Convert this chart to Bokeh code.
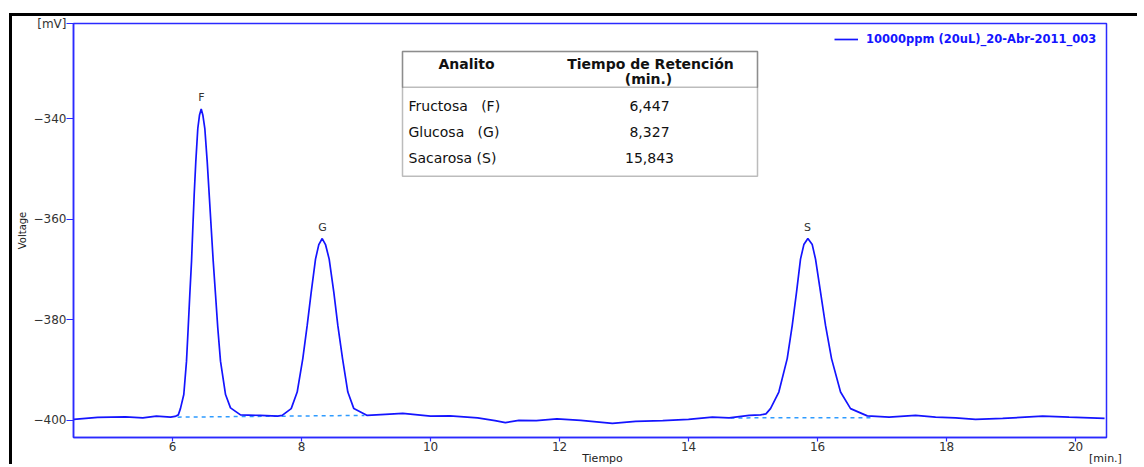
import numpy as np
from bokeh.plotting import figure
from bokeh.models import (FixedTicker, Label, BoxAnnotation, Legend, LegendItem, Range1d,
                          LinearAxis)
from bokeh.core.properties import value
from bokeh.embed import file_html
from bokeh.resources import INLINE

# ---------------- data ----------------
time_min = [4.47, 4.84, 5.27, 5.54, 5.75, 5.97, 6.04, 6.09, 6.124, 6.175, 6.217, 6.243,
            6.268, 6.295, 6.315, 6.336, 6.361, 6.392, 6.419, 6.445, 6.47, 6.501, 6.538,
            6.569, 6.60, 6.631, 6.667, 6.702, 6.744, 6.822, 6.899, 7.054, 7.36, 7.63,
            7.70, 7.84, 7.933, 8.020, 8.088, 8.150, 8.217, 8.268, 8.321, 8.372, 8.429,
            8.501, 8.563, 8.636, 8.718, 8.811, 9.019, 9.30, 9.57, 10.0, 10.3, 10.73,
            11.0, 11.16, 11.37, 11.64, 11.96, 12.33, 12.82, 13.18, 13.6, 14.0, 14.37,
            14.63, 14.94, 15.116, 15.2, 15.271, 15.40, 15.53, 15.608, 15.674, 15.736,
            15.788, 15.85, 15.918, 15.969, 16.047, 16.124, 16.217, 16.357, 16.512,
            16.771, 17.11, 17.52, 17.83, 18.14, 18.45, 18.87, 19.49, 19.9, 20.45]
voltage_mv = [-399.8, -399.4, -399.3, -399.5, -399.15, -399.35, -399.2, -398.9, -397.6,
              -394.85, -388.2, -381.6, -375.0, -368.3, -361.7, -355.1, -348.5, -341.9,
              -339.2, -338.0, -339.2, -341.9, -348.5, -355.1, -361.7, -368.3, -375.0,
              -381.6, -388.2, -394.85, -397.5, -398.9, -399.0, -399.15, -399.0, -397.65,
              -394.35, -387.7, -381.1, -374.5, -367.9, -365.0, -363.8, -365.0, -367.9,
              -374.5, -381.1, -387.7, -394.35, -397.65, -399.0, -398.8, -398.6, -399.15,
              -399.1, -399.5, -400.05, -400.45, -400.0, -400.05, -399.7, -400.0, -400.6,
              -400.2, -400.05, -399.8, -399.35, -399.5, -399.0, -398.9, -398.7, -397.65,
              -394.35, -387.7, -381.1, -374.5, -367.9, -365.0, -363.8, -365.0, -367.9,
              -374.5, -381.1, -387.7, -394.35, -397.65, -399.1, -399.35, -399.0, -399.35,
              -399.5, -399.8, -399.6, -399.15, -399.35, -399.6]

peak_names = ["F", "G", "S"]
peak_times = [6.447, 8.327, 15.843]
peak_tops = [-338.0, -363.8, -363.8]

base1_t = [6.08, 8.975]
base1_v = [-399.35, -399.0]
base2_t = [14.65, 16.82]
base2_v = [-399.5, -399.45]

x_ticks = [6, 8, 10, 12, 14, 16, 18, 20]
y_ticks = [-400, -380, -360, -340]

analytes = ["Fructosa\u00a0\u00a0\u00a0(F)", "Glucosa\u00a0\u00a0\u00a0(G)", "Sacarosa\u00a0(S)"]
retention = ["6,447", "8,327", "15,843"]
header = ["Analito", "Tiempo de Retención", "(min.)"]
series_name = "10000ppm (20uL)_20-Abr-2011_003"
y_unit, x_title, x_unit, y_title = "[mV]", "Tiempo", "[min.]", "Voltage"

# ---------------- layout ----------------
X0, X1 = 4.465, 20.48
Y0, Y1 = -403.4, -321.0
W, H = 1128, 451
ML, MR, MT, MB = 61, 34, 7, 29
FL, FT = 73, 23                      # frame left/top on the page
FW, FH = W - ML - MR, H - MT - MB

def dx(px):  # page px -> data x
    return X0 + (px - FL) / FW * (X1 - X0)

def dy(py):  # page px -> data y
    return Y1 - (py - FT) / FH * (Y1 - Y0)

BLUE = "#2a2aff"
TRACE = "#1414ff"
TXT = "#333333"
FONT = "DejaVu Sans"

p = figure(width=W, height=H, output_backend="svg", toolbar_location=None,
           x_range=Range1d(X0, X1), y_range=Range1d(Y0, Y1),
           min_border_left=ML, min_border_right=MR, min_border_top=MT, min_border_bottom=MB,
           background_fill_color="white", border_fill_color="white",
           styles={"margin-left": "9px", "margin-top": "13px",
                   "border-left": "3px solid #000", "border-top": "3px solid #000"})
p.grid.visible = False
p.outline_line_color = BLUE
p.outline_line_width = 1.5

for ax in (p.xaxis[0], p.yaxis[0]):
    ax.axis_line_color = BLUE
    ax.axis_line_width = 1.5
    ax.major_tick_line_color = BLUE
    ax.major_tick_line_width = 1.2
    ax.major_tick_in = 0
    ax.minor_tick_line_color = None
    ax.major_label_text_font = FONT
    ax.major_label_text_font_size = "12px"
    ax.major_label_text_color = TXT

p.xaxis.ticker = FixedTicker(ticks=x_ticks)
p.xaxis.major_tick_out = 4
p.xaxis.major_label_standoff = 0

# y axis: numeric ticks plus the unit label at the top of the axis
y_unit_pos = dy(23.5)
p.yaxis.ticker = FixedTicker(ticks=y_ticks + [y_unit_pos])
p.yaxis.major_label_overrides = {y_unit_pos: y_unit}
p.yaxis.major_tick_out = 7
p.yaxis.major_label_standoff = 0
p.yaxis.axis_label = y_title
p.yaxis.axis_label_text_font = FONT
p.yaxis.axis_label_text_font_size = "10px"
p.yaxis.axis_label_text_font_style = "normal"
p.yaxis.axis_label_text_color = "#222222"
p.yaxis.axis_label_standoff = 3

# second x axis carrying the axis title and the unit on one line
tx, ux = dx(602), dx(1105)
ax2 = LinearAxis(ticker=FixedTicker(ticks=[tx, ux]),
                 major_label_overrides={tx: x_title, ux: x_unit},
                 axis_line_color=None, major_tick_line_color=None,
                 minor_tick_line_color=None, major_tick_out=0, major_tick_in=0,
                 major_label_standoff=-2, major_label_text_font=FONT,
                 major_label_text_font_size="11px", major_label_text_color="#222222")
p.add_layout(ax2, "below")

# baselines (dotted)
p.line(base1_t, base1_v, line_color="#2e9bff", line_width=1.5, line_dash="4 4")
p.line(base2_t, base2_v, line_color="#2e9bff", line_width=1.5, line_dash="4 4")

# trace
r = p.line(time_min, voltage_mv, line_color=TRACE, line_width=1.7)

# peak labels
p.text(x=peak_times, y=peak_tops, text=peak_names, y_offset=-5,
       text_align="center", text_baseline="bottom", text_font=value(FONT),
       text_font_size="11px", text_color=TXT)

# legend
leg = Legend(items=[LegendItem(label=series_name, renderers=[r])],
             location=(761, 391), padding=0, margin=0, spacing=0,
             glyph_width=24, glyph_height=14, label_height=14, label_standoff=8,
             label_text_font=FONT, label_text_font_size="11.5px",
             label_text_font_style="bold", label_text_color=TRACE,
             border_line_alpha=0, background_fill_alpha=0)
p.add_layout(leg)

# table
p.add_layout(BoxAnnotation(left=dx(402), right=dx(757), top=dy(51), bottom=dy(176),
                           fill_color="white", fill_alpha=1, line_color="#222222",
                           line_width=1.5, level="underlay"))
p.add_layout(BoxAnnotation(left=dx(402), right=dx(757), top=dy(51), bottom=dy(87),
                           fill_alpha=0, line_color="#222222", line_width=1.5,
                           level="underlay"))

def lab(text, x, y, size="14px", style="normal", align="center", base="middle",
        color="#111111"):
    p.add_layout(Label(x=x, y=y, text=text, text_font=FONT, text_font_size=size,
                       text_font_style=style, text_align=align, text_baseline=base,
                       text_color=color))

lab(header[0], dx(466), dy(64), size="14px", style="bold")
lab(header[1], dx(650), dy(64), size="14px", style="bold")
lab(header[2], dx(648), dy(79), size="14px", style="bold")
row_y = [106, 132, 158]
for name, rt, yy in zip(analytes, retention, row_y):
    lab(name, dx(408), dy(yy), align="left")
    lab(rt, dx(649), dy(yy))

open("out.html", "w").write(file_html(p, INLINE))
